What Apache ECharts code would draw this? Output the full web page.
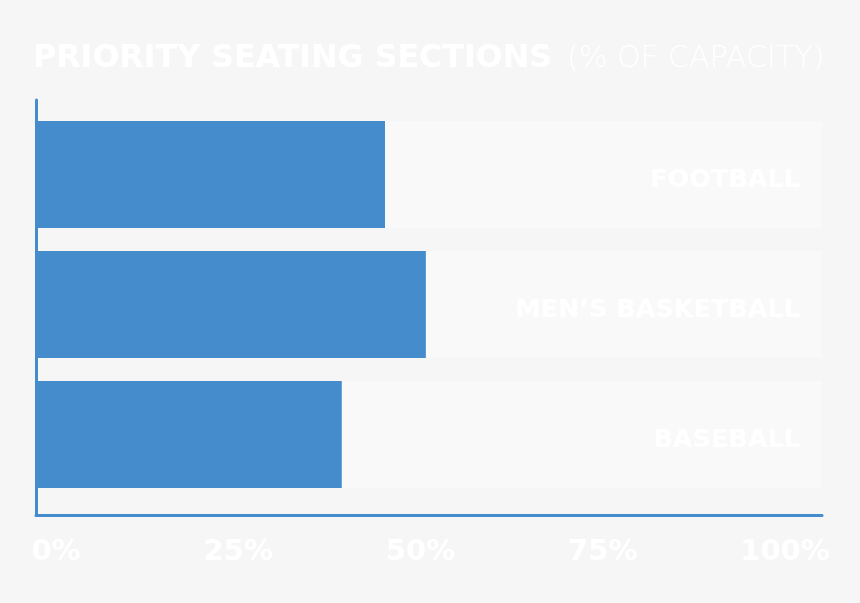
<!DOCTYPE html>
<html>
<head>
<meta charset="utf-8">
<script src="https://cdn.jsdelivr.net/npm/echarts@6/dist/echarts.min.js"></script>
<style>
html,body{margin:0;padding:0;background:#f6f6f6;}
#c{width:860px;height:603px;}
</style>
</head>
<body>
<div id="c"></div>
<script>
const categories = ['FOOTBALL', 'MEN\u2019S BASKETBALL', 'BASEBALL'];
const values = [44.4, 49.6, 38.9];
const fullValues = [100, 100, 100];
const tickValues = [0, 25, 50, 75, 100];
const titleMain = 'PRIORITY SEATING SECTIONS';
const titleSub = '(% OF CAPACITY)';

const blue = '#448ccb';
const chart = echarts.init(document.getElementById('c'));
chart.setOption({
  backgroundColor: '#f6f6f6',
  animation: false,
  title: {
    left: 28,
    top: 38,
    text: '{b|' + titleMain + '}{l|' + titleSub + '}',
    textStyle: {
      rich: {
        b: { fontFamily: 'DejaVu Sans', fontWeight: 'bold', fontSize: 31.7, color: '#ffffff' },
        l: { fontFamily: 'DejaVu Sans', fontWeight: 200, fontSize: 30.2, color: '#ffffff', padding: [0, 0, 0, 15] }
      }
    }
  },
  grid: [
    { left: 36, right: 38, top: 109.5, bottom: 103.5 },
    { left: 36, right: 38, top: 100, bottom: 88 },
    { left: 56, right: 75, top: 100, bottom: 88 }
  ],
  xAxis: [
    { gridIndex: 0, type: 'value', min: 0, max: 100, show: false },
    { gridIndex: 1, type: 'value', min: 0, max: 100,
      axisLine: { show: true, lineStyle: { color: blue, width: 3 } },
      axisTick: { show: false }, axisLabel: { show: false }, splitLine: { show: false } },
    { gridIndex: 2, type: 'value', min: 0, max: 100, interval: 25,
      axisLine: { show: false }, axisTick: { show: false }, splitLine: { show: false },
      axisLabel: { show: true, margin: 23, formatter: '{value}%', color: '#ffffff',
        fontFamily: 'DejaVu Sans', fontWeight: 'bold', fontSize: 29,
        customValues: tickValues } }
  ],
  yAxis: [
    { gridIndex: 0, type: 'category', data: categories, inverse: true, show: false },
    { gridIndex: 1, type: 'value', min: 0, max: 1,
      axisLine: { show: true, lineStyle: { color: blue, width: 3 } },
      axisTick: { show: false }, axisLabel: { show: false }, splitLine: { show: false } },
    { gridIndex: 2, type: 'value', show: false }
  ],
  series: [
    {
      type: 'bar', xAxisIndex: 0, yAxisIndex: 0, data: fullValues,
      barWidth: 107, barGap: '-100%', silent: true,
      itemStyle: { color: '#f9f9f9' },
      label: {
        show: true, position: 'insideRight', distance: 22, offset: [0, 6],
        formatter: function (p) { return p.name; },
        color: '#ffffff', fontFamily: 'DejaVu Sans', fontWeight: 'bold', fontSize: 25.5
      }
    },
    {
      type: 'bar', xAxisIndex: 0, yAxisIndex: 0, data: values,
      barWidth: 107, barGap: '-100%',
      itemStyle: { color: blue }
    }
  ]
});
</script>
</body>
</html>
